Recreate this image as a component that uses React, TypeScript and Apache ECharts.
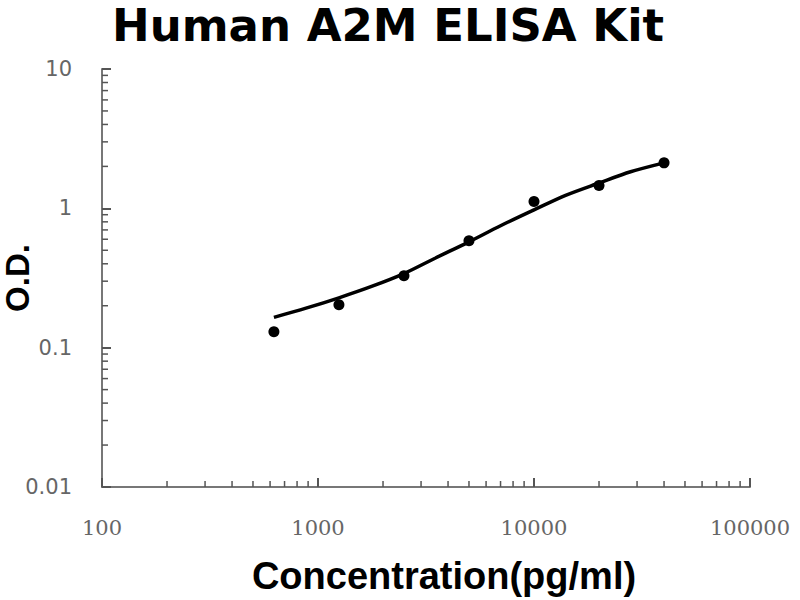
import { useEffect, useRef } from "react";
import * as echarts from "echarts";

// standard points (pg/ml, O.D.)
const concentrations = [625, 1250, 2500, 5000, 10000, 20000, 40000];
const odValues = [0.13, 0.203, 0.328, 0.585, 1.12, 1.46, 2.12];

// fitted curve
const curveConc = [625, 880, 1250, 1770, 2500, 3500, 5000, 7000, 10000, 14000, 20000, 28000, 40000];
const curveOd = [0.165, 0.192, 0.228, 0.275, 0.34, 0.44, 0.575, 0.75, 0.975, 1.24, 1.52, 1.83, 2.12];

// minor tick positions of the log axes
const xMinorTicks = [
  200, 300, 400, 500, 600, 700, 800, 900,
  2000, 3000, 4000, 5000, 6000, 7000, 8000, 9000,
  20000, 30000, 40000, 50000, 60000, 70000, 80000, 90000,
];
const yMinorTicks = [
  0.02, 0.03, 0.04, 0.05, 0.06, 0.07, 0.08, 0.09,
  0.2, 0.3, 0.4, 0.5, 0.6, 0.7, 0.8, 0.9,
  2, 3, 4, 5, 6, 7, 8, 9,
];

const X_MIN = 100;
const X_MAX = 100000;
const Y_MIN = 0.01;
const Y_MAX = 10;

const tickColor = "#555";
const labelColor = "#666";

const App = () => {
  const chartRef = useRef<HTMLDivElement>(null);

  useEffect(() => {
    if (!chartRef.current) return;
    const chart = echarts.init(chartRef.current, undefined, { renderer: "svg" });

    const fmt = (v: number) => String(Number(v.toPrecision(6)));

    const option: echarts.EChartsOption = {
      animation: false,
      backgroundColor: "#fff",
      title: {
        text: "Human A2M ELISA Kit",
        left: 112,
        top: 2,
        padding: 0,
        textStyle: {
          fontFamily: "DejaVu Sans",
          fontWeight: "bold",
          fontSize: 45,
          lineHeight: 46,
          color: "#000",
        },
      },
      grid: { left: 102, right: 50, top: 69, bottom: 113, outerBoundsMode: "none" } as any,
      xAxis: {
        type: "log",
        logBase: 10,
        min: X_MIN,
        max: X_MAX,
        splitNumber: 3,
        name: "Concentration(pg/ml)",
        nameLocation: "middle",
        nameGap: 70,
        nameMoveOverlap: false,
        nameTextStyle: {
          fontFamily: "Liberation Sans",
          fontWeight: "bold",
          fontSize: 38,
          color: "#000",
          padding: [0, 0, 0, 36],
        },
        axisLine: { lineStyle: { color: "#777", width: 2 } },
        axisTick: { inside: true, length: 9, lineStyle: { color: tickColor, width: 2 } },
        axisLabel: {
          margin: 30,
          fontFamily: "DejaVu Serif",
          fontSize: 21,
          color: labelColor,
          formatter: fmt,
        },
        splitLine: { show: false },
      } as any,
      yAxis: {
        type: "log",
        logBase: 10,
        min: Y_MIN,
        max: Y_MAX,
        splitNumber: 3,
        name: "O.D.",
        nameLocation: "middle",
        nameGap: 68,
        nameMoveOverlap: false,
        nameTextStyle: {
          fontFamily: "Liberation Sans",
          fontWeight: "bold",
          fontSize: 33,
          lineHeight: 33,
          color: "#000",
        },
        axisLine: { lineStyle: { color: "#777", width: 2 } },
        axisTick: { inside: true, length: 9, lineStyle: { color: tickColor, width: 2 } },
        axisLabel: {
          margin: 30,
          fontFamily: "DejaVu Sans",
          fontSize: 21,
          color: labelColor,
          formatter: fmt,
        },
        splitLine: { show: false },
      } as any,
      series: [
        {
          type: "custom",
          silent: true,
          data: xMinorTicks.map((v) => [v, Y_MIN]),
          renderItem: (_params: any, api: any) => {
            const p = api.coord([api.value(0), Y_MIN]);
            return {
              type: "line",
              shape: { x1: p[0], y1: p[1], x2: p[0], y2: p[1] - 6 },
              style: { stroke: tickColor, lineWidth: 1.5 },
            };
          },
          z: 1,
        },
        {
          type: "custom",
          silent: true,
          data: yMinorTicks.map((v) => [X_MIN, v]),
          renderItem: (_params: any, api: any) => {
            const p = api.coord([X_MIN, api.value(1)]);
            return {
              type: "line",
              shape: { x1: p[0], y1: p[1], x2: p[0] + 6, y2: p[1] },
              style: { stroke: tickColor, lineWidth: 1.5 },
            };
          },
          z: 1,
        },
        {
          type: "line",
          data: curveConc.map((c, i) => [c, curveOd[i]]),
          smooth: 0.3,
          showSymbol: false,
          lineStyle: { color: "#000", width: 3.5 },
          z: 3,
        },
        {
          type: "scatter",
          data: concentrations.map((c, i) => [c, odValues[i]]),
          symbol: "circle",
          symbolSize: 11,
          itemStyle: { color: "#000", opacity: 1 },
          z: 4,
        },
      ],
    };

    chart.setOption(option);

    return () => {
      chart.dispose();
    };
  }, []);

  return (
    <div
      ref={chartRef}
      style={{ position: "fixed", left: 0, top: 0, width: 800, height: 600 }}
    />
  );
};

export default App;
